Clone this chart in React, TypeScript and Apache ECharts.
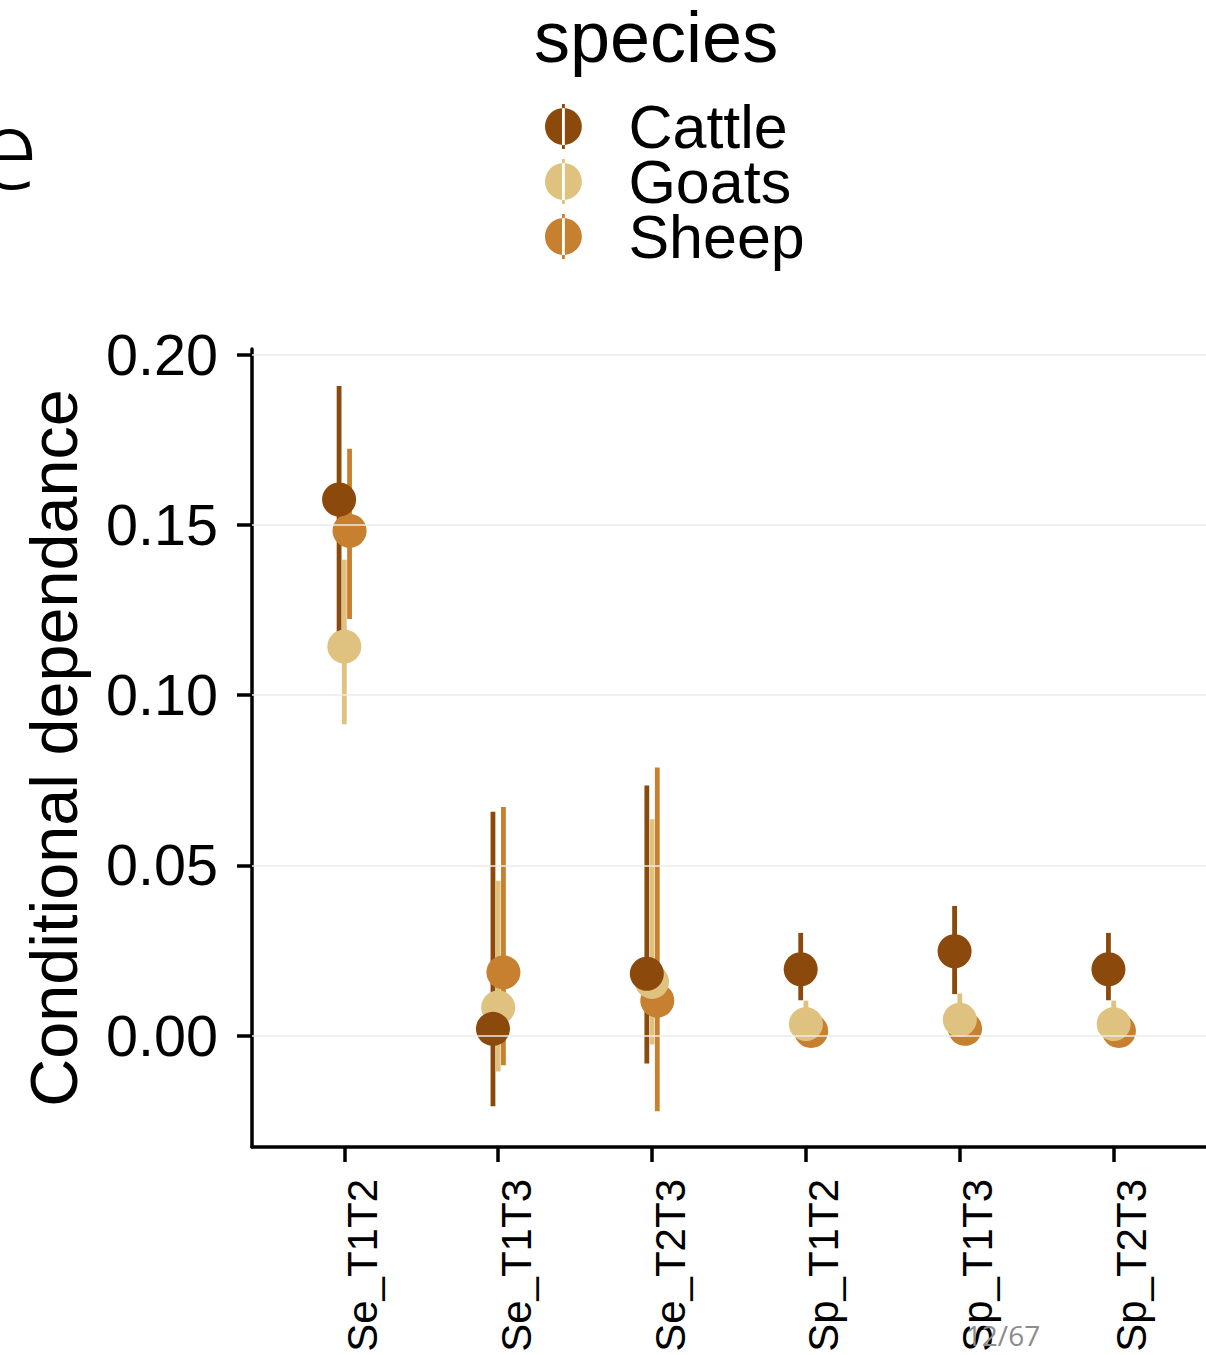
import React, { useEffect, useRef } from "react";
import * as echarts from "echarts";

const categories = ["Se_T1T2", "Se_T1T3", "Se_T2T3", "Sp_T1T2", "Sp_T1T3", "Sp_T2T3"];
const speciesNames = ["Cattle", "Goats", "Sheep"];

const cattleEst = [0.1575, 0.002, 0.0182, 0.0195, 0.0248, 0.0195];
const cattleLow = [0.1185, -0.0207, -0.0082, 0.0104, 0.0122, 0.0104];
const cattleHigh = [0.1908, 0.0658, 0.0735, 0.0302, 0.0381, 0.0302];

const goatsEst = [0.1143, 0.0083, 0.0158, 0.0034, 0.0047, 0.0034];
const goatsLow = [0.0915, -0.0105, -0.0026, 0.0, 0.001, 0.0];
const goatsHigh = [0.1398, 0.0455, 0.0636, 0.0103, 0.0124, 0.0103];

const sheepEst = [0.1483, 0.0186, 0.0103, 0.0014, 0.002, 0.0014];
const sheepLow = [0.1224, -0.0087, -0.0222, -0.001, -0.001, -0.001];
const sheepHigh = [0.1724, 0.0672, 0.0788, 0.005, 0.0055, 0.005];

const yTicks = [0, 0.05, 0.1, 0.15, 0.2];
const xTicks = [0, 1, 2, 3, 4, 5];

const colors: Record<string, string> = {
  Cattle: "#8B4A0C",
  Goats: "#DFC27F",
  Sheep: "#C7802F",
};
const dodge: Record<string, number> = { Cattle: -0.034, Goats: 0, Sheep: 0.034 };

const legendIcon = "path://M11,2A9,9 0 1,0 11.001,2Z M10.3,0H11.7V22H10.3Z";
const FONT = "'Liberation Sans', Arial, sans-serif";

export default function App() {
  const ref = useRef<HTMLDivElement>(null);
  useEffect(() => {
    if (!ref.current) return;
    const chart = echarts.init(ref.current, null, { renderer: "svg" });
    const est: Record<string, number[]> = { Cattle: cattleEst, Goats: goatsEst, Sheep: sheepEst };
    const low: Record<string, number[]> = { Cattle: cattleLow, Goats: goatsLow, Sheep: sheepLow };
    const high: Record<string, number[]> = { Cattle: cattleHigh, Goats: goatsHigh, Sheep: sheepHigh };

    const errSeries = speciesNames.map((s) => ({
      type: "custom",
      name: s + " interval",
      z: 2,
      encode: { x: 0, y: [1, 2] },
      data: categories.map((_, i) => [i + dodge[s], low[s][i], high[s][i]]),
      renderItem: (params: any, api: any) => {
        const x = api.value(0);
        const p1 = api.coord([x, api.value(1)]);
        const p2 = api.coord([x, api.value(2)]);
        return {
          type: "line",
          shape: { x1: p1[0], y1: p1[1], x2: p2[0], y2: p2[1] },
          style: { stroke: colors[s], lineWidth: 4.8 },
        };
      },
      silent: true,
    }));

    const pointOrder = ["Sheep", "Goats", "Cattle"];
    const pointSeries = pointOrder.map((s) => ({
      type: "scatter",
      name: s,
      z: 3,
      symbol: "circle",
      symbolSize: 34,
      itemStyle: { color: colors[s], opacity: 1 },
      data: categories.map((_, i) => [i + dodge[s], est[s][i]]),
      silent: true,
    }));

    const gridSeries = {
      type: "scatter",
      name: "grid",
      z: 1,
      data: [],
      markLine: {
        silent: true,
        symbol: "none",
        animation: false,
        label: { show: false },
        lineStyle: { color: "#EBEBEB", width: 1.5, type: "solid" },
        data: yTicks.map((v) => ({ yAxis: v })),
      },
    };

    chart.setOption({
      animation: false,
      backgroundColor: "#ffffff",
      title: [
        {
          text: "species",
          left: 534,
          top: 1,
          padding: 0,
          textStyle: { fontFamily: FONT, fontSize: 72, fontWeight: "normal", color: "#000" },
        },
        {
          text: "e",
          left: -22,
          top: 91,
          padding: 0,
          textStyle: {
            fontFamily: "'Open Sans', sans-serif",
            fontSize: 110,
            fontWeight: 300,
            color: "#000",
          },
        },
      ],
      legend: {
        orient: "vertical",
        left: 545,
        top: 96,
        padding: 0,
        itemWidth: 120,
        itemHeight: 45,
        itemGap: -6,
        selectedMode: false,
        symbolKeepAspect: true,
        textStyle: { fontFamily: FONT, fontSize: 61, color: "#000" },
        data: speciesNames.map((s) => ({ name: s, icon: legendIcon, itemStyle: { color: colors[s] } })),
      },
      grid: { left: 252, top: 349, width: 961, height: 798, containLabel: false },
      xAxis: {
        type: "value",
        min: -0.6,
        max: 5.6,
        axisLine: { show: true, onZero: false, lineStyle: { color: "#000", width: 3.5 } },
        axisTick: { show: true, length: 15, customValues: xTicks, lineStyle: { color: "#000", width: 3.5 } },
        axisLabel: {
          show: true,
          customValues: xTicks,
          rotate: 90,
          verticalAlign: "top",
          margin: 32,
          fontFamily: FONT,
          fontSize: 42,
          color: "#000",
          padding: [-3, 0, 0, 0],
          formatter: (v: number) => categories[Math.round(v)] ?? "",
        },
        splitLine: { show: false },
      },
      yAxis: {
        type: "value",
        min: -0.0327,
        max: 0.2017,
        name: "Conditional dependance",
        nameLocation: "middle",
        nameGap: 165,
        nameRotate: 90,
        nameTextStyle: { fontFamily: FONT, fontSize: 66.5, color: "#000" },
        axisLine: { show: true, onZero: false, lineStyle: { color: "#000", width: 3.5 } },
        axisTick: { show: true, length: 15, customValues: yTicks, lineStyle: { color: "#000", width: 3.5 } },
        axisLabel: {
          show: true,
          customValues: yTicks,
          margin: 34,
          fontFamily: FONT,
          fontSize: 57.5,
          color: "#000",
          formatter: (v: number) => v.toFixed(2),
        },
        splitLine: { show: false },
      },
      graphic: [
        {
          type: "text",
          x: 1003,
          y: 1335,
          rotation: 0,
          style: {
            text: "12/67",
            fontFamily: "'Open Sans', sans-serif",
            fontSize: 28,
            fill: "#8C8C8C",
            align: "center",
            verticalAlign: "middle",
          },
          z: 100,
          silent: true,
        },
      ],
      series: [gridSeries, ...errSeries, ...pointSeries],
    });
    return () => chart.dispose();
  }, []);
  return (
    <div
      ref={ref}
      style={{ position: "absolute", left: 0, top: 0, width: 1206, height: 1355, background: "#fff" }}
    />
  );
}
